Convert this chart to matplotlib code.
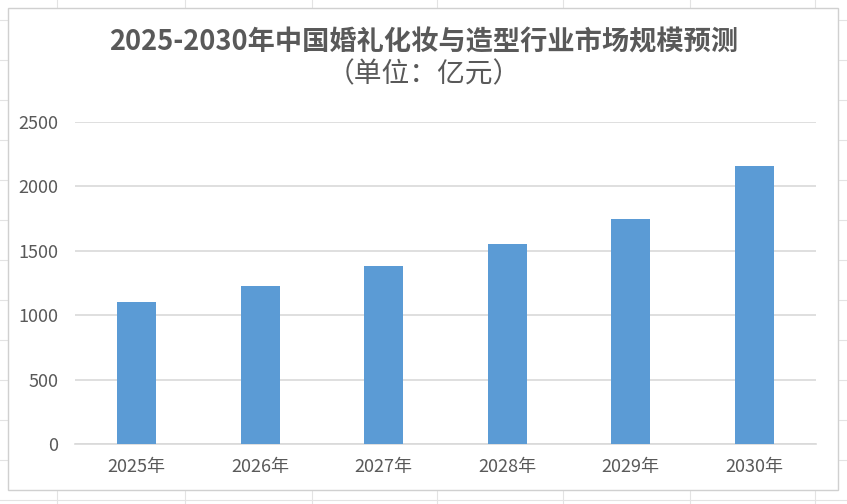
import matplotlib.pyplot as plt
from matplotlib.patches import Rectangle

plt.rcParams['font.family'] = ['Noto Sans CJK SC', 'DejaVu Sans']

years = ['2025年', '2026年', '2027年', '2028年', '2029年', '2030年']
values = [1100, 1230, 1380, 1550, 1745, 2155]
yticks = [0, 500, 1000, 1500, 2000, 2500]

W, H = 847, 504
fig = plt.figure(figsize=(W / 100, H / 100), dpi=100)

# excel sheet lines behind the chart
for x in [57, 185, 312, 437, 563, 690, 815]:
    fig.add_artist(plt.Line2D([x / W, x / W], [0, 1], color='#e3e3e3', lw=0.8, zorder=0))
for y in [20, 60, 100, 140, 180, 220, 260, 300, 340, 380, 420, 460, 500]:
    fig.add_artist(plt.Line2D([0, 1], [1 - y / H, 1 - y / H], color='#e3e3e3', lw=0.8, zorder=0))
# chart area
fig.add_artist(Rectangle((8 / W, 1 - 490 / H), 830 / W, 482 / H, transform=fig.transFigure,
                         facecolor='white', edgecolor='#d0d0d0', lw=1, zorder=1))

ax = fig.add_axes([75 / W, 1 - 444 / H, 741 / W, 322 / H], zorder=2)
ax.patch.set_alpha(0)
ax.bar(range(len(years)), values, width=0.315, color='#5b9bd5', zorder=3)
ax.set_xlim(-0.5, len(years) - 0.5)
ax.set_ylim(0, 2500)
ax.set_yticks(yticks)
ax.set_xticks(range(len(years)))
ax.set_xticklabels(years)
ax.grid(axis='y', color='#d9d9d9', lw=1.2, zorder=0)
for s in ['top', 'right', 'left']:
    ax.spines[s].set_visible(False)
ax.spines['bottom'].set_color('#d9d9d9')
ax.spines['bottom'].set_linewidth(1.2)
ax.tick_params(length=0, labelsize=13, labelcolor='#595959')
ax.tick_params(axis='x', pad=10)
ax.tick_params(axis='y', pad=12)

fig.text(0.5, 1 - 42 / H, '2025-2030年中国婚礼化妆与造型行业市场规模预测', ha='center', va='center',
         fontsize=19.6, fontweight='bold', color='#595959')
fig.text(0.5, 1 - 74 / H, '（单位：亿元）', ha='center', va='center',
         fontsize=20, color='#595959')

fig.savefig('out.png', dpi=100)
